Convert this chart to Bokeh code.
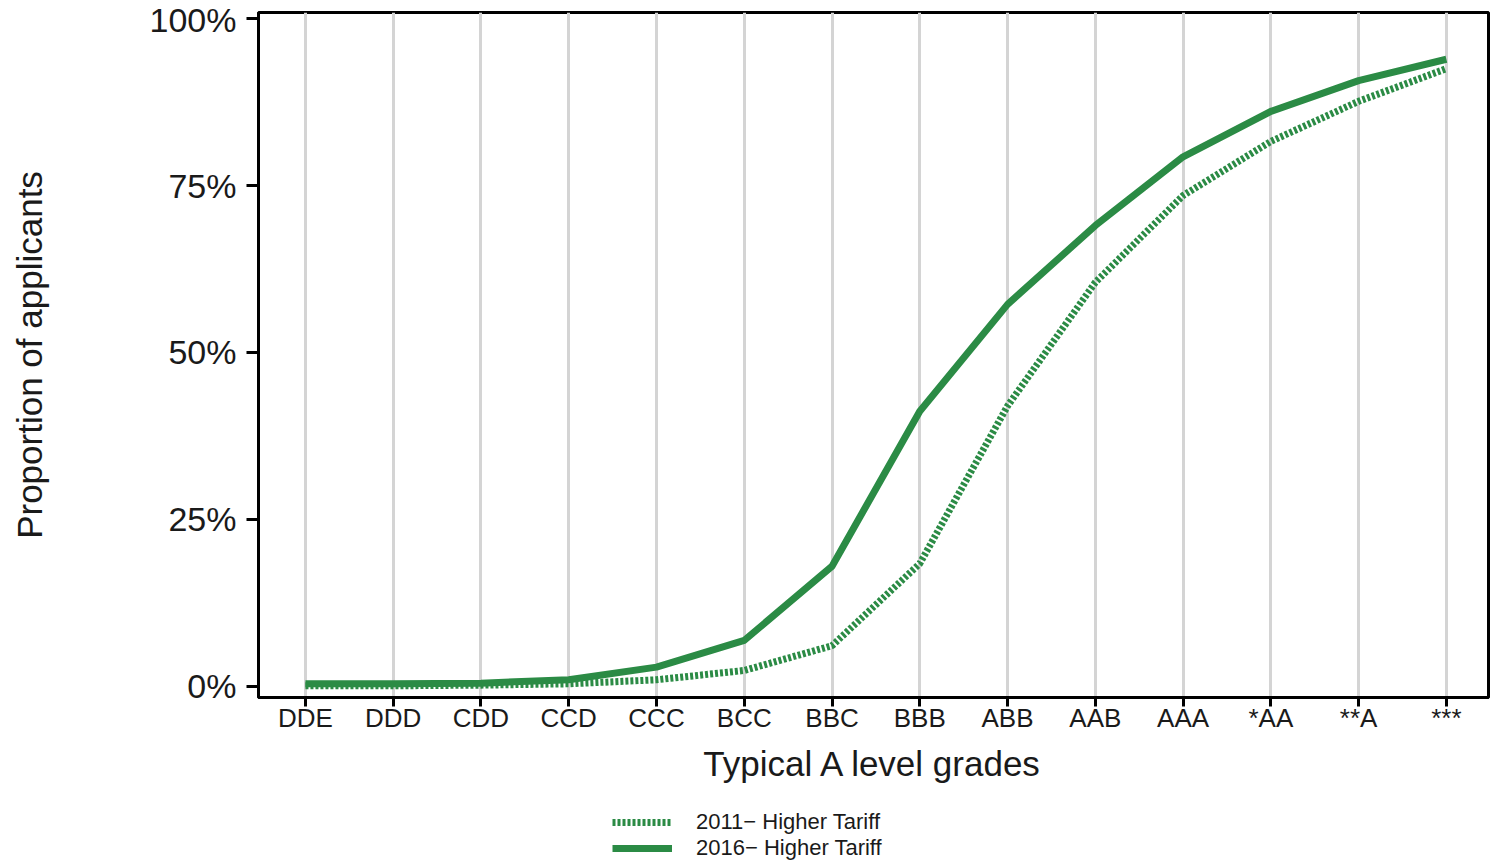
from bokeh.plotting import figure
from bokeh.models import Range1d, FixedTicker, Legend, LegendItem
from bokeh.layouts import column
from bokeh.embed import file_html
from bokeh.resources import INLINE

grades = ["DDE", "DDD", "CDD", "CCD", "CCC", "BCC", "BBC", "BBB", "ABB", "AAB", "AAA", "*AA", "**A", "***"]
share_2011 = [0.1, 0.1, 0.2, 0.4, 1.0, 2.4, 6.1, 18.4, 42.0, 60.5, 73.5, 81.6, 87.6, 92.5]
share_2016 = [0.4, 0.4, 0.5, 1.0, 2.9, 6.9, 18.0, 41.2, 57.2, 69.0, 79.3, 86.1, 90.7, 93.9]
series_names = ["2011\u2212 Higher Tariff", "2016\u2212 Higher Tariff"]
y_ticks = [0, 25, 50, 75, 100]

x = list(range(len(grades)))
green = "#2B8B45"
font = "Liberation Sans"

p = figure(frame_width=1230, frame_height=685, output_backend="svg", toolbar_location=None,
           x_range=Range1d(-0.535, 13.48), y_range=Range1d(-1.65, 100.9),
           min_border_left=258, min_border_top=12, min_border_right=2, min_border_bottom=95)

p.outline_line_color = "black"
p.outline_line_width = 3
p.outline_line_alpha = 1
p.background_fill_color = "white"
p.border_fill_color = "white"

p.ygrid.grid_line_color = None
p.xgrid.grid_line_color = "#d4d4d4"
p.xgrid.grid_line_width = 3
p.xgrid.ticker = FixedTicker(ticks=x)

p.xaxis.ticker = FixedTicker(ticks=x)
p.xaxis.major_label_overrides = {i: g for i, g in enumerate(grades)}
p.yaxis.ticker = FixedTicker(ticks=y_ticks)
p.yaxis.major_label_overrides = {v: f"{v}%" for v in y_ticks}

for ax in (p.xaxis[0], p.yaxis[0]):
    ax.axis_line_color = "black"
    ax.axis_line_width = 3
    ax.major_tick_line_color = "black"
    ax.major_tick_line_width = 3
    ax.major_tick_in = 0
    ax.major_tick_out = 9
    ax.minor_tick_line_color = None
    ax.major_label_text_font = font
    ax.major_label_text_color = "#1a1a1a"
    ax.axis_label_text_font = font
    ax.axis_label_text_font_style = "normal"
    ax.axis_label_text_color = "#1a1a1a"
    ax.axis_label_text_font_size = "35px"

p.xaxis.major_label_text_font_size = "26px"
p.xaxis.major_label_standoff = -4
p.xaxis.axis_label = "Typical A level grades"
p.xaxis.axis_label_standoff = 8

p.yaxis.major_tick_out = 12
p.yaxis.major_label_text_font_size = "34px"
p.yaxis.major_label_standoff = 10
p.yaxis.axis_label = "Proportion of applicants"
p.yaxis.axis_label_standoff = 98

p.line(x, share_2011, line_color=green, line_width=7, line_dash="3 2")
p.line(x, share_2016, line_color=green, line_width=7, line_join="round")

# legend panel underneath the chart (legend-only lines lie outside its view)
leg_fig = figure(width=1490, height=70, output_backend="svg", toolbar_location=None,
                 x_axis_type=None, y_axis_type=None, min_border=0,
                 x_range=Range1d(0, 1), y_range=Range1d(0, 1))
leg_fig.outline_line_color = None
leg_fig.xgrid.grid_line_color = None
leg_fig.ygrid.grid_line_color = None
k11 = leg_fig.line([-5, -4], [-5, -4], line_color=green, line_width=7, line_dash="3 2")
k16 = leg_fig.line([-5, -4], [-5, -4], line_color=green, line_width=7)

legend = Legend(items=[LegendItem(label=series_names[0], renderers=[k11]),
                       LegendItem(label=series_names[1], renderers=[k16])],
                location=(354, 1), orientation="vertical",
                glyph_width=60, glyph_height=20, label_standoff=24,
                label_text_font=font, label_text_font_size="22px", label_text_color="#1a1a1a",
                label_height=20, spacing=-5, padding=0, margin=0,
                border_line_color=None, background_fill_alpha=0)
leg_fig.add_layout(legend, "center")

layout = column(p, leg_fig, spacing=0)
open("out.html", "w").write(file_html(layout, INLINE))
